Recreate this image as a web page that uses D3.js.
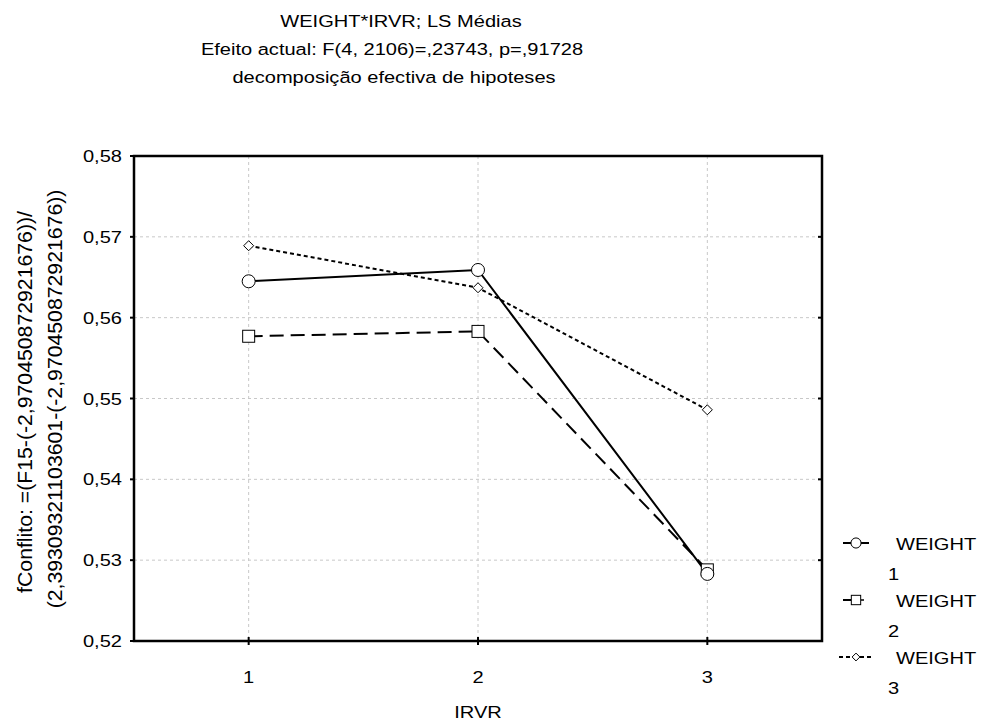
<!DOCTYPE html>
<html>
<head>
<meta charset="utf-8">
<script src="https://cdn.jsdelivr.net/npm/d3@7"></script>
<style>
  body { margin: 0; background: #fff; }
  svg { font-family: "Liberation Sans", Arial, sans-serif; }
</style>
</head>
<body>
<svg id="chart" width="988" height="726"></svg>
<script>
// data
var levels = [1, 2, 3];
var seriesNames = ['WEIGHT 1', 'WEIGHT 2', 'WEIGHT 3'];
var weight1 = [0.5645, 0.5659, 0.5283];
var weight2 = [0.5577, 0.5583, 0.5288];
var weight3 = [0.5689, 0.5637, 0.5486];
var yTicks = [0.52, 0.53, 0.54, 0.55, 0.56, 0.57, 0.58];
var titleLines = [
    'WEIGHT*IRVR; LS Médias',
    'Efeito actual: F(4, 2106)=,23743, p=,91728',
    'decomposição efectiva de hipoteses'
];
var yLabelLines = [
    'fConflito: =(F15-(-2,970450872921676))/',
    '(2,39309321103601-(-2,970450872921676))'
];

var svg = d3.select('#chart');
var plotL = 134, plotR = 822, plotT = 156, plotB = 641;
var stretch = 1.18; // text in the reference is a bit wide

var x = d3.scaleLinear().domain([0.5, 3.5]).range([plotL, plotR]);
var y = d3.scaleLinear().domain([0.52, 0.58]).range([plotB, plotT]);

var fmt = function(d) { return d3.format('.2f')(d).replace('.', ','); };

// wide text helper
function wideText(g, tx, ty, str, anchor) {
    return g.append('text')
        .attr('transform', 'translate(' + tx + ',' + ty + ') scale(' + stretch + ',1)')
        .attr('text-anchor', anchor || 'start')
        .attr('font-size', 17)
        .text(str);
}

// grid
var grid = svg.append('g').attr('stroke', '#c8c8c8').attr('stroke-dasharray', '3,3').attr('stroke-width', 1);
yTicks.slice(1, -1).forEach(function(t) {
    grid.append('line').attr('x1', plotL).attr('x2', plotR).attr('y1', y(t)).attr('y2', y(t));
});
levels.forEach(function(l) {
    grid.append('line').attr('x1', x(l)).attr('x2', x(l)).attr('y1', plotT).attr('y2', plotB);
});

// ticks (left, right and bottom)
var ticks = svg.append('g').attr('stroke', '#000').attr('stroke-width', 2);
yTicks.forEach(function(t) {
    ticks.append('line').attr('x1', plotL - 4).attr('x2', plotL).attr('y1', y(t)).attr('y2', y(t));
    ticks.append('line').attr('x1', plotR - 4).attr('x2', plotR).attr('y1', y(t)).attr('y2', y(t));
});
levels.forEach(function(l) {
    ticks.append('line').attr('x1', x(l)).attr('x2', x(l)).attr('y1', plotB - 4).attr('y2', plotB + 4);
});

// tick labels
var labels = svg.append('g');
yTicks.forEach(function(t) { wideText(labels, plotL - 12, y(t) + 6, fmt(t), 'end'); });
levels.forEach(function(l) { wideText(labels, x(l), 683, String(l), 'middle'); });

// frame
svg.append('rect').attr('x', plotL).attr('y', plotT).attr('width', plotR - plotL).attr('height', plotB - plotT)
    .attr('fill', 'none').attr('stroke', '#000').attr('stroke-width', 2.5);

// series
var series = [
    { name: seriesNames[0], values: weight1, dash: null, shape: 'circle' },
    { name: seriesNames[1], values: weight2, dash: '14,7', shape: 'square' },
    { name: seriesNames[2], values: weight3, dash: '4,3', shape: 'diamond' }
];

var line = d3.line().x(function(d, i) { return x(levels[i]); }).y(function(d) { return y(d); });

function marker(g, shape, cx, cy, k) {
    k = k || 1;
    if (shape === 'circle') {
        g.append('circle').attr('cx', cx).attr('cy', cy).attr('r', 6.5 * k)
            .attr('fill', '#fff').attr('stroke', '#000').attr('stroke-width', 1);
    } else if (shape === 'square') {
        var h = 6 * k;
        g.append('rect').attr('x', cx - h).attr('y', cy - h).attr('width', 2 * h).attr('height', 2 * h)
            .attr('fill', '#fff').attr('stroke', '#000').attr('stroke-width', 1);
    } else {
        var d = 5 * k;
        g.append('path').attr('d', 'M' + cx + ',' + (cy - d) + 'L' + (cx + d) + ',' + cy + 'L' + cx + ',' + (cy + d) + 'L' + (cx - d) + ',' + cy + 'Z')
            .attr('fill', '#fff').attr('stroke', '#000').attr('stroke-width', 1);
    }
}

series.forEach(function(s) {
    svg.append('path').datum(s.values).attr('d', line)
        .attr('fill', 'none').attr('stroke', '#000').attr('stroke-width', 2)
        .attr('stroke-dasharray', s.dash);
});
series.slice().reverse().forEach(function(s) {
    var g = svg.append('g');
    s.values.forEach(function(v, i) { marker(g, s.shape, x(levels[i]), y(v)); });
});

// titles
var titles = svg.append('g');
var titleX = [401, 392, 394];
titleLines.forEach(function(t, i) { wideText(titles, titleX[i], 27 + i * 28, t, 'middle'); });

// axis titles
wideText(svg, 478, 718, 'IRVR', 'middle');
var yLabelPos = [[32, 402], [62, 399]];
svg.append('g').selectAll('text').data(yLabelLines).enter().append('text')
    .attr('transform', function(d, i) {
        return 'translate(' + yLabelPos[i][0] + ',' + yLabelPos[i][1] + ') rotate(-90) scale(1.09,1)';
    })
    .attr('text-anchor', 'middle').attr('font-size', 19.5).text(function(d) { return d; });

// legend
var legend = svg.append('g');
series.forEach(function(s, i) {
    var ly = 543 + i * 57;
    var g = legend.append('g');
    if (s.shape === 'square') {
        g.append('line').attr('x1', 843).attr('x2', 851).attr('y1', ly).attr('y2', ly)
            .attr('stroke', '#000').attr('stroke-width', 2);
        g.append('line').attr('x1', 861).attr('x2', 864).attr('y1', ly).attr('y2', ly)
            .attr('stroke', '#000').attr('stroke-width', 1.5);
    } else if (s.shape === 'diamond') {
        g.append('line').attr('x1', 839).attr('x2', 873).attr('y1', ly).attr('y2', ly)
            .attr('stroke', '#000').attr('stroke-width', 2).attr('stroke-dasharray', s.dash);
    } else {
        g.append('line').attr('x1', 843).attr('x2', 869).attr('y1', ly).attr('y2', ly)
            .attr('stroke', '#000').attr('stroke-width', 2);
    }
    marker(g, s.shape, 856, ly, 0.78);
    var parts = s.name.split(' ');
    wideText(g, 896, ly + 7, parts[0]);
    wideText(g, 888, ly + 37, parts[1]);
});
</script>
</body>
</html>
